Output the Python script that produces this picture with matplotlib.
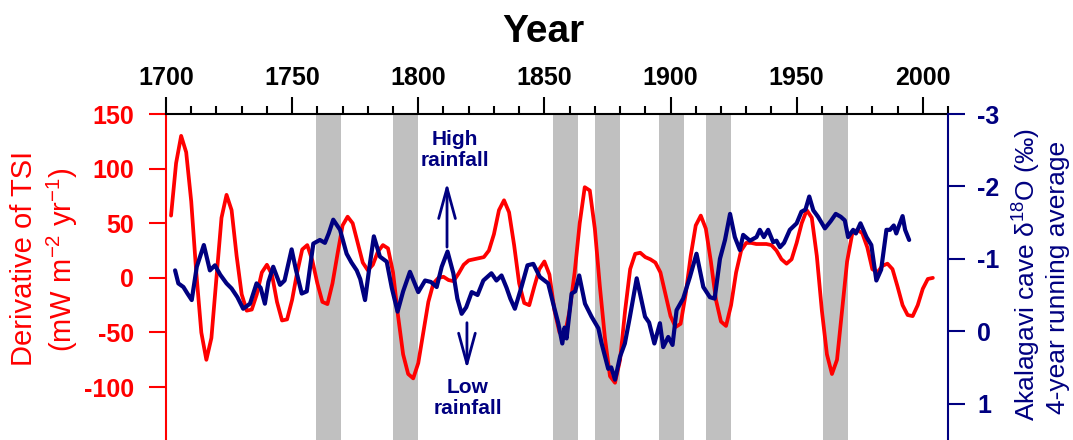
import numpy as np
import matplotlib
matplotlib.use('Agg')
import matplotlib.pyplot as plt

plt.rcParams['font.family'] = ['Liberation Sans', 'DejaVu Sans']
plt.rcParams['axes.unicode_minus'] = False
plt.rcParams['mathtext.default'] = 'regular'

# derivative of TSI (mW m-2 yr-1), read every 2 years
red_year = np.arange(1702, 2005, 2)
red_dtsi = [57, 105, 130, 115, 70, 5, -50, -75, -55, 0,
            55, 76, 62, 20, -15, -30, -29, -15, 5, 12,
            3, -22, -39, -38, -20, 5, 26, 30, 16, -5,
            -22, -24, -5, 22, 48, 56, 50, 32, 14, 7,
            12, 24, 30, 27, 5, -35, -70, -88, -92, -78,
            -50, -22, -5, 0, 1, -2, -3, 4, 12, 16,
            17, 18, 19, 25, 40, 62, 71, 60, 30, -5,
            -23, -25, -8, 8, 15, 3, -30, -50, -53, -30,
            5, 50, 83, 80, 45, -8, -55, -90, -96, -75,
            -30, 8, 22, 23, 19, 17, 14, 5, -15, -35,
            -45, -42, -15, 20, 48, 57, 45, 15, -20, -40,
            -44, -25, 5, 25, 32, 32, 31, 31, 31, 30,
            25, 17, 13, 17, 32, 50, 62, 55, 20, -30,
            -70, -88, -75, -30, 15, 40, 44, 41, 28, 8,
            5, 11, 13, 8, -8, -25, -34, -35, -25, -10,
            -1, 0]

# Akalagavi cave d18O, 4-year running average (permil)
blue_year = [1703.6, 1704.9, 1706.9, 1708.5, 1710.2, 1712.2, 1715.0, 1717.4, 1719.4, 1721.5,
             1724.0, 1726.0, 1728.3, 1730.6, 1733.3, 1735.9, 1737.5, 1739.2, 1740.6, 1742.5,
             1745.2, 1747.0, 1749.8, 1751.5, 1753.8, 1755.8, 1758.4, 1761.0, 1763.0, 1764.5,
             1766.3, 1769.0, 1771.6, 1773.5, 1775.6, 1777.0, 1778.9, 1780.5, 1782.4, 1784.8,
             1787.5, 1789.5, 1791.8, 1794.0, 1796.7, 1800.0, 1802.7, 1805.0, 1807.3, 1809.3,
             1811.6, 1813.9, 1815.5, 1817.2, 1819.0, 1821.2, 1823.5, 1825.8, 1829.0, 1831.0,
             1833.0, 1835.0, 1836.5, 1838.3, 1840.9, 1843.3, 1845.6, 1848.2, 1851.5, 1853.5,
             1855.5, 1857.1, 1858.0, 1858.8, 1860.8, 1862.2, 1863.8, 1866.1, 1868.7, 1871.4,
             1872.7, 1875.3, 1876.5, 1878.0, 1880.0, 1881.9, 1883.9, 1886.6, 1889.9, 1891.5,
             1893.6, 1895.8, 1897.1, 1899.1, 1900.8, 1902.4, 1905.0, 1907.7, 1910.3, 1913.0,
             1915.6, 1917.5, 1919.6, 1921.6, 1923.6, 1925.5, 1927.5, 1928.8, 1931.5, 1934.1,
             1935.4, 1937.0, 1938.7, 1940.7, 1942.0, 1943.4, 1945.0, 1947.3, 1950.0, 1951.9,
             1953.5, 1955.0, 1956.6, 1958.5, 1961.2, 1963.5, 1965.5, 1967.5, 1969.1, 1970.4,
             1972.4, 1973.5, 1975.3, 1977.7, 1979.6, 1981.6, 1983.5, 1985.6, 1987.0, 1988.5,
             1989.5, 1990.5, 1992.0, 1993.0, 1994.6]
blue_d18o = [-0.84, -0.66, -0.61, -0.52, -0.43, -0.89, -1.19, -0.84, -0.91, -0.78,
             -0.66, -0.59, -0.47, -0.31, -0.38, -0.66, -0.60, -0.38, -0.68, -0.89,
             -0.64, -0.70, -1.13, -0.85, -0.52, -0.55, -1.21, -1.26, -1.22, -1.35,
             -1.54, -1.40, -1.07, -0.95, -0.84, -0.72, -0.43, -0.85, -1.31, -1.03,
             -0.96, -0.60, -0.27, -0.55, -0.82, -0.54, -0.70, -0.68, -0.61, -0.89,
             -1.10, -0.80, -0.45, -0.24, -0.33, -0.54, -0.50, -0.70, -0.80, -0.70,
             -0.77, -0.60, -0.45, -0.31, -0.61, -0.91, -0.93, -0.75, -0.66, -0.38,
             -0.11, 0.17, -0.05, 0.10, -0.52, -0.55, -0.77, -0.38, -0.20, -0.04,
             0.17, 0.52, 0.50, 0.67, 0.35, 0.17, -0.20, -0.73, -0.20, -0.12,
             0.17, -0.11, 0.22, 0.08, 0.19, -0.29, -0.45, -0.75, -1.07, -0.61,
             -0.47, -0.45, -1.00, -1.26, -1.62, -1.30, -1.12, -1.33, -1.25, -1.30,
             -1.40, -1.30, -1.40, -1.23, -1.25, -1.16, -1.22, -1.40, -1.49, -1.65,
             -1.68, -1.86, -1.67, -1.58, -1.42, -1.52, -1.62, -1.58, -1.53, -1.30,
             -1.40, -1.35, -1.49, -1.30, -1.19, -0.70, -0.85, -1.40, -1.40, -1.46,
             -1.35, -1.45, -1.59, -1.40, -1.26]

# shaded periods
band_start = [1759.5, 1790, 1853.5, 1870, 1895.5, 1914, 1960.5]
band_end = [1769.5, 1800, 1863.5, 1880, 1905.5, 1924, 1970.5]

red = '#FF0000'
navy = '#000080'
W, H = 1073, 440

fig = plt.figure(figsize=(W / 100, H / 100), dpi=100)
ax = fig.add_axes([166 / W, 0, (948 - 166) / W, (440 - 114) / H])
ax.set_xlim(1700, 2010)
ax.set_ylim(-148.4, 150)

for a, b in zip(band_start, band_end):
    ax.axvspan(a, b, color='#C0C0C0', lw=0, zorder=0)
ax.plot(red_year, red_dtsi, color=red, lw=2.7, solid_joinstyle='round',
        solid_capstyle='round', zorder=2)

ax.xaxis.tick_top()
ax.set_xticks(np.arange(1700, 2001, 50))
ax.set_xticks(np.arange(1700, 2011, 10), minor=True)
ax.tick_params(axis='x', which='major', length=12, width=1.5, pad=5, labelsize=18)
ax.tick_params(axis='x', which='minor', length=5.5, width=1.5)
ax.set_yticks([-100, -50, 0, 50, 100, 150])
ax.tick_params(axis='y', length=12, width=1.5, pad=11, labelsize=18, colors=red)
for t in ax.get_xticklabels() + ax.get_yticklabels():
    t.set_fontweight('bold')
ax.spines['bottom'].set_visible(False)
ax.spines['right'].set_visible(False)
ax.spines['top'].set_linewidth(1.5)
ax.spines['left'].set_linewidth(1.5)
ax.spines['left'].set_color(red)

ax2 = ax.twinx()
ax2.set_ylim(1.503, -3)
ax2.plot(blue_year, blue_d18o, color=navy, lw=3.0, solid_joinstyle='round',
         solid_capstyle='round', zorder=3)
ax2.set_yticks([-3, -2, -1, 0, 1])
ax2.tick_params(axis='y', length=12, width=1.5, pad=9, labelsize=18, colors=navy)
for t in ax2.get_yticklabels():
    t.set_fontweight('bold')
for s in ['top', 'bottom', 'left']:
    ax2.spines[s].set_visible(False)
ax2.spines['right'].set_color(navy)
ax2.spines['right'].set_linewidth(1.5)

arrow = dict(arrowstyle='->,head_length=2.2,head_width=0.6', color=navy, lw=2)
ax.annotate('', xy=(1811.4, 89.7), xytext=(1811.4, 25.6), arrowprops=arrow)
ax.annotate('', xy=(1819.3, -86), xytext=(1819.3, -38.5), arrowprops=arrow)
ax.text(1814.6, 117, 'High\nrainfall', ha='center', va='center', color=navy,
        fontsize=15, fontweight='bold', linespacing=1.1)
ax.text(1819.7, -110, 'Low\nrainfall', ha='center', va='center', color=navy,
        fontsize=15, fontweight='bold', linespacing=1.1)

fig.text(543 / W, 1 - 42 / H, 'Year', ha='center', va='baseline', fontsize=28, fontweight='bold')
fig.text(24 / W, 1 - 258 / H, 'Derivative of TSI', rotation=90, ha='center', va='center',
         color=red, fontsize=21)
fig.text(62 / W, 1 - 260 / H, '(mW m$^{-2}$ yr$^{-1}$)', rotation=90, ha='center', va='center',
         color=red, fontsize=21)
fig.text(1027 / W, 1 - 274 / H, 'Akalagavi cave δ$^{18}$O (‰)', rotation=90, ha='center',
         va='center', color=navy, fontsize=19)
fig.text(1058 / W, 1 - 277 / H, '4-year running average', rotation=90, ha='center',
         va='center', color=navy, fontsize=19)

fig.savefig('out.png', dpi=100)
